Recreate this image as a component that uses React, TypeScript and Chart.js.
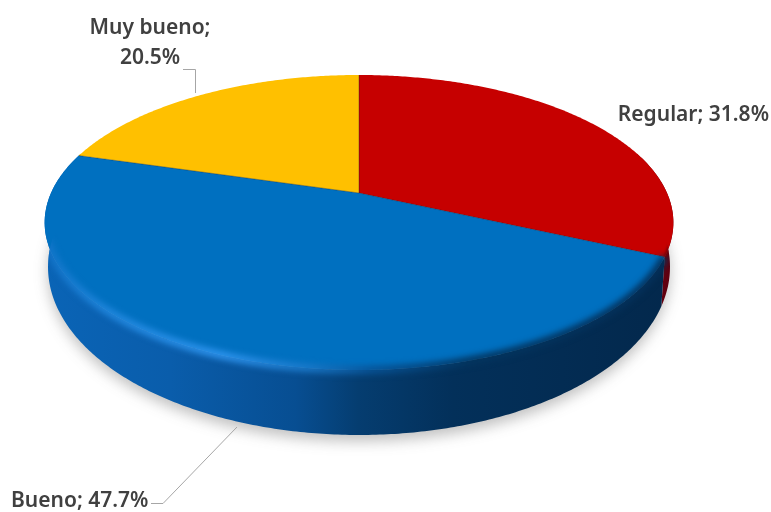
import React, { useEffect, useRef } from "react";
import { Chart, registerables } from "chart.js";

Chart.register(...registerables);

const categories = ["Regular", "Bueno", "Muy bueno"];
const percentages = [31.8, 47.7, 20.5];
const faceColors = ["#c60000", "#0070c0", "#ffc000"];
const wallStops: [number, string][][] = [
  [[0, "#8a0000"], [0.9, "#8a0008"], [1, "#5c0010"]],
  [[0, "#0a64b6"], [0.2, "#0a5dab"], [0.4, "#074e92"], [0.5, "#053d70"], [0.65, "#03305a"], [1, "#03284c"]],
  [[0, "#b38600"], [1, "#b38600"]],
];

const FONT = "600 21px 'Noto Sans'";
const INK = "#404040";
const LEADER = "#a6a6a6";

// Perspective mapping of the unit disc onto the slanted pie plane.
const CX = 359;
const TILT = -0.2;
const TOP_FACE = { a: 308, b: 103, c: 193 };
const BOTTOM_FACE = { a: 304.7, b: 114.6, c: 233.4 };

type Face = { a: number; b: number; c: number };

const project = (f: Face, t: number) => {
  const w = 1 + TILT * Math.sin(t);
  return {
    x: CX + (f.a * Math.cos(t)) / w,
    y: (f.c + f.b * Math.sin(t)) / w,
  };
};

const trace = (ctx: CanvasRenderingContext2D, f: Face, from: number, to: number, move = false) => {
  const steps = Math.max(2, Math.ceil(Math.abs(to - from) / 0.01));
  for (let i = 0; i <= steps; i++) {
    const p = project(f, from + ((to - from) * i) / steps);
    if (i === 0 && move) ctx.moveTo(p.x, p.y);
    else ctx.lineTo(p.x, p.y);
  }
};

const sweepGradient = (ctx: CanvasRenderingContext2D, stops: [number, string][]) => {
  const g = ctx.createLinearGradient(45, 0, 672, 0);
  stops.forEach(([o, c]) => g.addColorStop(o, c));
  return g;
};

// Restricts later painting to the outline of the whole disc, wall included.
const clipToDisc = (ctx: CanvasRenderingContext2D) => {
  ctx.beginPath();
  trace(ctx, TOP_FACE, 0, Math.PI * 2, true);
  ctx.closePath();
  trace(ctx, BOTTOM_FACE, -0.3, Math.PI + 0.3, true);
  trace(ctx, TOP_FACE, Math.PI + 0.3, -0.3);
  ctx.closePath();
  ctx.clip();
};

const pie3d = {
  id: "pie3d",
  beforeDatasetsDraw(chart: Chart) {
    const ctx = chart.ctx;
    const arcs = chart.getDatasetMeta(0).data as any[];

    // Soft ground shadow under the disc
    ctx.save();
    ctx.filter = "blur(7px)";
    ctx.fillStyle = "rgba(60,60,60,0.32)";
    ctx.beginPath();
    trace(ctx, { ...BOTTOM_FACE, c: BOTTOM_FACE.c + 5 }, 0, Math.PI * 2, true);
    ctx.closePath();
    ctx.fill();
    ctx.restore();

    // Outer wall of each slice
    arcs.forEach((arc, i) => {
      const from = Math.max(arc.startAngle, -0.3);
      const to = Math.min(arc.endAngle, Math.PI + 0.3);
      if (to <= from) return;
      ctx.beginPath();
      trace(ctx, TOP_FACE, from, to, true);
      trace(ctx, BOTTOM_FACE, to, from);
      ctx.closePath();
      ctx.fillStyle = sweepGradient(ctx, wallStops[i]);
      ctx.fill();
    });

    // Flat top of each slice
    arcs.forEach((arc, i) => {
      ctx.beginPath();
      ctx.moveTo(CX, TOP_FACE.c);
      trace(ctx, TOP_FACE, arc.startAngle, arc.endAngle);
      ctx.closePath();
      ctx.fillStyle = faceColors[i];
      ctx.fill();
    });

    // Dark seams along the slice borders
    ctx.save();
    ctx.strokeStyle = "rgba(0,30,60,0.35)";
    ctx.lineWidth = 1;
    arcs.forEach((arc) => {
      const p = project(TOP_FACE, arc.startAngle);
      ctx.beginPath();
      ctx.moveTo(CX, TOP_FACE.c);
      ctx.lineTo(p.x, p.y);
      ctx.stroke();
    });
    ctx.restore();

    // Bevel along the rim: a highlight on the left fading to shade on the right
    ctx.save();
    clipToDisc(ctx);
    ctx.filter = "blur(3px)";
    ctx.lineCap = "butt";
    ctx.lineWidth = 8;
    ctx.beginPath();
    trace(ctx, TOP_FACE, arcs[1].startAngle, arcs[1].endAngle - 0.6, true);
    ctx.strokeStyle = sweepGradient(ctx, [
      [0, "#1274c8"],
      [0.1, "#2086dc"],
      [0.28, "#2e94ee"],
      [0.42, "#1a78c8"],
      [0.52, "#075396"],
      [0.68, "#03355f"],
      [1, "#04305a"],
    ]);
    ctx.stroke();

    // Darkened edge where the red slice turns over the side
    ctx.filter = "blur(1px)";
    ctx.lineWidth = 3;
    ctx.strokeStyle = "#7a0006";
    ctx.beginPath();
    trace(ctx, TOP_FACE, -0.15, arcs[0].endAngle, true);
    ctx.stroke();
    ctx.restore();

    // Leader lines
    ctx.save();
    ctx.strokeStyle = LEADER;
    ctx.lineWidth = 1;
    ctx.beginPath();
    ctx.moveTo(183, 69.5);
    ctx.lineTo(195.5, 69.5);
    ctx.lineTo(195.5, 93);
    ctx.moveTo(151, 503.5);
    ctx.lineTo(163, 503.5);
    ctx.lineTo(237, 427);
    ctx.stroke();
    ctx.restore();

    // Slice labels
    const valueText = (i: number) => `${percentages[i].toFixed(1)}%`;
    ctx.save();
    ctx.font = FONT;
    ctx.fillStyle = INK;
    ctx.textBaseline = "middle";
    ctx.textAlign = "right";
    ctx.fillText(`${categories[0]}; ${valueText(0)}`, 769, 115);
    ctx.textAlign = "left";
    ctx.fillText(`${categories[1]}; ${valueText(1)}`, 11, 501);
    ctx.textAlign = "center";
    ctx.fillText(`${categories[2]};`, 150, 28);
    ctx.fillText(valueText(2), 150, 58);
    ctx.restore();

    return false;
  },
};

export default function App() {
  const ref = useRef<HTMLCanvasElement>(null);
  useEffect(() => {
    const chart = new Chart(ref.current!, {
      type: "pie",
      data: {
        labels: categories,
        datasets: [{ data: percentages, backgroundColor: faceColors, borderWidth: 0 }],
      },
      options: {
        responsive: false,
        animation: false,
        rotation: 0,
        plugins: { legend: { display: false }, tooltip: { enabled: false } },
      },
      plugins: [pie3d],
    } as any);
    return () => chart.destroy();
  }, []);
  return (
    <div style={{ position: "absolute", left: 0, top: 0, width: 771, height: 512, background: "#fff" }}>
      <canvas ref={ref} width={771} height={512} style={{ display: "block" }} />
    </div>
  );
}
